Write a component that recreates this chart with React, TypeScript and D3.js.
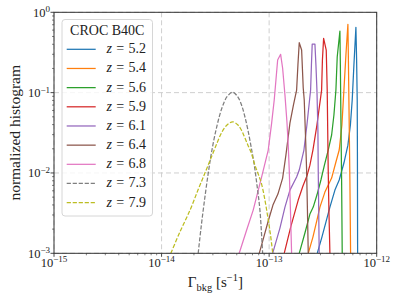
import React from "react";
import * as d3 from "d3";

// ---- data ----
const labels = ["5.2", "5.4", "5.6", "5.9", "6.1", "6.4", "6.8", "7.3", "7.9"];
const colors = ["#1f77b4", "#ff7f0e", "#2ca02c", "#d62728", "#9467bd", "#8c564b", "#e377c2", "#7f7f7f", "#bcbd22"];
const dashed = [false, false, false, false, false, false, false, true, true];

const gamma52 = [2.80e-13, 3.095e-13, 3.372e-13, 3.673e-13, 4.089e-13, 4.482e-13, 4.957e-13, 5.399e-13, 5.695e-13, 5.92e-13, 6.14e-13, 6.408e-13, 6.505e-13, 6.59e-13, 6.617e-13, 6.646e-13];
const hist52 = [0.001, 0.00159, 0.00245, 0.00376, 0.00612, 0.00817, 0.0133, 0.0222, 0.0395, 0.0809, 0.2207, 0.6505, 0.2547, 0.0809, 0.0193, 0.001];

const gamma54 = [2.31e-13, 2.553e-13, 2.782e-13, 2.966e-13, 3.30e-13, 3.81e-13, 4.177e-13, 4.482e-13, 4.749e-13, 4.957e-13, 5.174e-13, 5.399e-13, 5.457e-13, 5.515e-13, 5.575e-13, 5.634e-13, 5.719e-13];
const hist54 = [0.001, 0.00159, 0.00259, 0.00376, 0.00578, 0.00864, 0.0137, 0.0193, 0.0395, 0.1077, 0.294, 0.709, 0.2547, 0.0809, 0.0257, 0.00817, 0.001];

const gamma56 = [1.905e-13, 2.151e-13, 2.394e-13, 2.57e-13, 2.782e-13, 3.03e-13, 3.266e-13, 3.542e-13, 3.81e-13, 4.002e-13, 4.177e-13, 4.295e-13, 4.55e-13, 4.599e-13, 4.649e-13, 4.719e-13, 4.78e-13];
const hist56 = [0.001, 0.00179, 0.00308, 0.00376, 0.00531, 0.00817, 0.0125, 0.0193, 0.0297, 0.0526, 0.1077, 0.2775, 0.585, 0.191, 0.0456, 0.00817, 0.001];

const gamma59 = [1.381e-13, 1.595e-13, 1.864e-13, 2.062e-13, 2.245e-13, 2.394e-13, 2.553e-13, 2.782e-13, 3.075e-13, 3.129e-13, 3.21e-13, 3.395e-13, 3.467e-13, 3.504e-13, 3.542e-13, 3.595e-13, 3.673e-13];
const hist59 = [0.001, 0.00218, 0.0046, 0.00687, 0.00914, 0.0125, 0.0193, 0.0395, 0.1077, 0.2547, 0.4745, 0.339, 0.1077, 0.0342, 0.01087, 0.00345, 0.001];

const gamma61 = [1.078e-13, 1.26e-13, 1.403e-13, 1.561e-13, 1.801e-13, 1.905e-13, 2.106e-13, 2.245e-13, 2.43e-13, 2.473e-13, 2.515e-13, 2.665e-13, 2.723e-13, 2.782e-13, 2.841e-13, 2.86e-13, 2.89e-13, 2.92e-13];
const hist61 = [0.001, 0.00206, 0.00376, 0.00612, 0.00889, 0.01087, 0.0193, 0.0395, 0.1077, 0.2207, 0.403, 0.403, 0.2207, 0.1077, 0.0342, 0.01087, 0.00345, 0.001];

const gamma64 = [8.09e-14, 8.76e-14, 9.75e-14, 1.085e-13, 1.207e-13, 1.335e-13, 1.432e-13, 1.561e-13, 1.682e-13, 1.801e-13, 1.852e-13, 1.905e-13, 2.005e-13, 2.075e-13, 2.12e-13, 2.185e-13, 2.23e-13, 2.27e-13, 2.31e-13];
const hist64 = [0.001, 0.00146, 0.00245, 0.00398, 0.00546, 0.00863, 0.0167, 0.0418, 0.0701, 0.1077, 0.2207, 0.418, 0.339, 0.114, 0.0809, 0.0257, 0.01087, 0.00345, 0.001];

const gamma68 = [5.27e-14, 6.18e-14, 7.11e-14, 8.51e-14, 9.81e-14, 1.055e-13, 1.115e-13, 1.157e-13, 1.20e-13, 1.279e-13, 1.335e-13, 1.403e-13, 1.464e-13, 1.505e-13, 1.538e-13, 1.578e-13, 1.618e-13];
const hist68 = [0.001, 0.00195, 0.00345, 0.00889, 0.0193, 0.0418, 0.0809, 0.1435, 0.2547, 0.300, 0.201, 0.0933, 0.0431, 0.0222, 0.01087, 0.00345, 0.001];

const gamma73 = [2.19e-14, 2.32e-14, 2.48e-14, 2.70e-14, 2.94e-14, 3.27e-14, 3.64e-14, 4.06e-14, 4.58e-14, 5.13e-14, 5.58e-14, 5.96e-14, 6.35e-14, 6.78e-14, 7.23e-14, 7.71e-14, 8.21e-14, 8.70e-14];
const hist73 = [0.001, 0.002, 0.0041, 0.00942, 0.0193, 0.0384, 0.0643, 0.0889, 0.101, 0.0881, 0.0681, 0.0497, 0.0342, 0.0216, 0.0133, 0.00706, 0.00345, 0.001];

const gamma79 = [1.22e-14, 1.48e-14, 1.84e-14, 2.18e-14, 2.53e-14, 2.88e-14, 3.25e-14, 3.64e-14, 4.06e-14, 4.58e-14, 5.13e-14, 5.58e-14, 5.96e-14, 6.35e-14, 6.78e-14, 7.38e-14, 7.92e-14, 8.51e-14, 9.14e-14, 9.75e-14, 1.03e-13, 1.08e-13];
const hist79 = [0.001, 0.00184, 0.00345, 0.00612, 0.00997, 0.0153, 0.0229, 0.0323, 0.0395, 0.0434, 0.0395, 0.0333, 0.0272, 0.0222, 0.0182, 0.0125, 0.00968, 0.00728, 0.0046, 0.00274, 0.00169, 0.001];

const xTickExps = [-15, -14, -13, -12];
const yTickExps = [0, -1, -2, -3];

const seriesX = [gamma52, gamma54, gamma56, gamma59, gamma61, gamma64, gamma68, gamma73, gamma79];
const seriesY = [hist52, hist54, hist56, hist59, hist61, hist64, hist68, hist73, hist79];

// ---- layout ----
const W = 399, H = 299;
const L = 54, R = 376.7, T = 12.3, B = 253.3;
const FONT = "'Liberation Serif', 'DejaVu Serif', serif";

export default function App() {
  const x = d3.scaleLog().domain([1e-15, 1e-12]).range([L, R]);
  const y = d3.scaleLog().domain([1e-3, 1]).range([B, T]);

  const minorX: number[] = [];
  for (let e = -15; e < -12; e++) for (let m = 2; m <= 9; m++) minorX.push(m * Math.pow(10, e));
  const minorY: number[] = [];
  for (let e = -3; e < 0; e++) for (let m = 2; m <= 9; m++) minorY.push(m * Math.pow(10, e));

  const axisColor = "#333";
  const gridColor = "#cfcfcf";

  const lines = seriesX.map((xs, i) => {
    const pts = xs.map((v, j) => [v, seriesY[i][j]] as [number, number]);
    const gen = d3
      .line<[number, number]>()
      .x((d) => x(d[0]))
      .y((d) => y(d[1]))
      .curve(dashed[i] ? d3.curveCatmullRom : d3.curveLinear);
    return gen(pts) || "";
  });

  const legX = 62, legY = 19.5, legW = 90.5, legH = 196.5;
  const rowY0 = 49.3, rowStep = 19.17;

  return (
    <svg width={W} height={H} style={{ position: "absolute", left: 0, top: 0, background: "#fff" }} fontFamily={FONT}>
      <defs>
        <clipPath id="plotclip">
          <rect x={L} y={T} width={R - L} height={B - T} />
        </clipPath>
      </defs>
      <rect x={0} y={0} width={W} height={H} fill="#fff" />

      {/* grid */}
      {xTickExps.map((e) => (
        <line key={"gx" + e} x1={x(Math.pow(10, e))} x2={x(Math.pow(10, e))} y1={T} y2={B} stroke={gridColor} strokeWidth={1} strokeDasharray="5,3" />
      ))}
      {yTickExps.map((e) => (
        <line key={"gy" + e} y1={y(Math.pow(10, e))} y2={y(Math.pow(10, e))} x1={L} x2={R} stroke={gridColor} strokeWidth={1} strokeDasharray="5,3" />
      ))}

      {/* series */}
      <g clipPath="url(#plotclip)">
        {lines.map((d, i) => (
          <path key={"s" + i} d={d} fill="none" stroke={colors[i]} strokeWidth={1.25} strokeDasharray={dashed[i] ? "4.2,1.8" : undefined} strokeLinejoin="round" />
        ))}
      </g>

      {/* frame */}
      <rect x={L} y={T} width={R - L} height={B - T} fill="none" stroke={axisColor} strokeWidth={1} />

      {/* x ticks */}
      {xTickExps.map((e) => {
        const px = x(Math.pow(10, e));
        return (
          <g key={"xt" + e}>
            <line x1={px} x2={px} y1={B} y2={B + 3.5} stroke={axisColor} strokeWidth={0.9} />
            <text x={px} y={266.5} textAnchor="middle" fontSize={12.5} fill="#222">
              <tspan>10</tspan>
              <tspan dy={-4.5} fontSize={9}>{"\u2212" + Math.abs(e)}</tspan>
            </text>
          </g>
        );
      })}
      {minorX.map((v, i) => (
        <line key={"mx" + i} x1={x(v)} x2={x(v)} y1={B} y2={B + 2} stroke={axisColor} strokeWidth={0.6} />
      ))}

      {/* y ticks */}
      {yTickExps.map((e) => {
        const py = y(Math.pow(10, e));
        return (
          <g key={"yt" + e}>
            <line x1={L - 3.5} x2={L} y1={py} y2={py} stroke={axisColor} strokeWidth={0.9} />
            <text x={50} y={py + 4.5} textAnchor="end" fontSize={12.5} fill="#222">
              <tspan>10</tspan>
              <tspan dy={-4.5} fontSize={9}>{e === 0 ? "0" : "\u2212" + Math.abs(e)}</tspan>
            </text>
          </g>
        );
      })}
      {minorY.map((v, i) => (
        <line key={"my" + i} x1={L - 2} x2={L} y1={y(v)} y2={y(v)} stroke={axisColor} strokeWidth={0.6} />
      ))}

      {/* axis labels */}
      <text x={(L + R) / 2} y={287} textAnchor="middle" fontSize={15} fill="#222">
        <tspan>Γ</tspan>
        <tspan dy={3.5} fontSize={10.5}>bkg</tspan>
        <tspan dy={-3.5}> [s</tspan>
        <tspan dy={-6} fontSize={10.5}>{"\u22121"}</tspan>
        <tspan dy={6}>]</tspan>
      </text>
      <text transform={`translate(20, ${(T + B) / 2}) rotate(-90)`} textAnchor="middle" fontSize={15.5} fill="#222">
        normalized histogram
      </text>

      {/* legend */}
      <rect x={legX} y={legY} width={legW} height={legH} rx={3} ry={3} fill="#fff" fillOpacity={0.8} stroke="#d6d6d6" strokeWidth={1} />
      <text x={legX + legW / 2} y={34.5} textAnchor="middle" fontSize={14} fill="#222">CROC B40C</text>
      {labels.map((lab, i) => {
        const cy = rowY0 + i * rowStep;
        return (
          <g key={"lg" + i}>
            <line x1={66.7} x2={95.7} y1={cy} y2={cy} stroke={colors[i]} strokeWidth={1.25} strokeDasharray={dashed[i] ? "4.2,1.8" : undefined} />
            <text y={cy + 4} fontSize={14} fill="#222">
              <tspan x={106.5} fontStyle="italic">z</tspan>
              <tspan x={116.3}>=</tspan>
              <tspan x={128.5}>{lab}</tspan>
            </text>
          </g>
        );
      })}
    </svg>
  );
}
